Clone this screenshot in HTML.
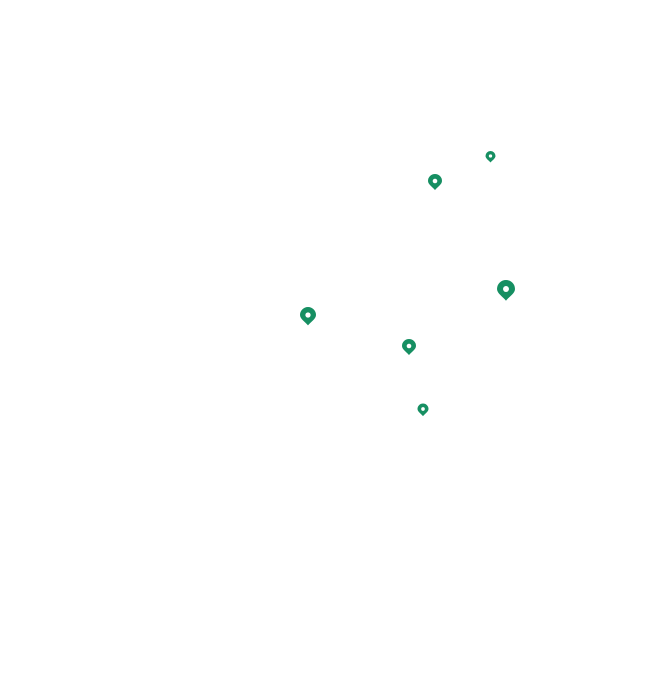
<!DOCTYPE html>
<html><head><style>html,body{margin:0;padding:0;background:#fff;width:663px;height:695px;overflow:hidden}</style></head>
<body>
<svg width="663" height="695" xmlns="http://www.w3.org/2000/svg">
<defs>
<g id="p"><path d="M0,1.3 C-0.3,0.9 -1,0.5 -1,0 A1,1 0 0 1 1,0 C1,0.5 0.3,0.9 0,1.3 Z" fill="#168f62"/><circle r="0.33" fill="#fff"/></g>
</defs>
<use href="#p" transform="translate(490.5,156) scale(5)"/>
<use href="#p" transform="translate(435,181) scale(7)"/>
<use href="#p" transform="translate(506,289) scale(9)"/>
<use href="#p" transform="translate(308,315) scale(8)"/>
<use href="#p" transform="translate(409,346) scale(7)"/>
<use href="#p" transform="translate(423,409) scale(5.5)"/>
</svg>
</body></html>
